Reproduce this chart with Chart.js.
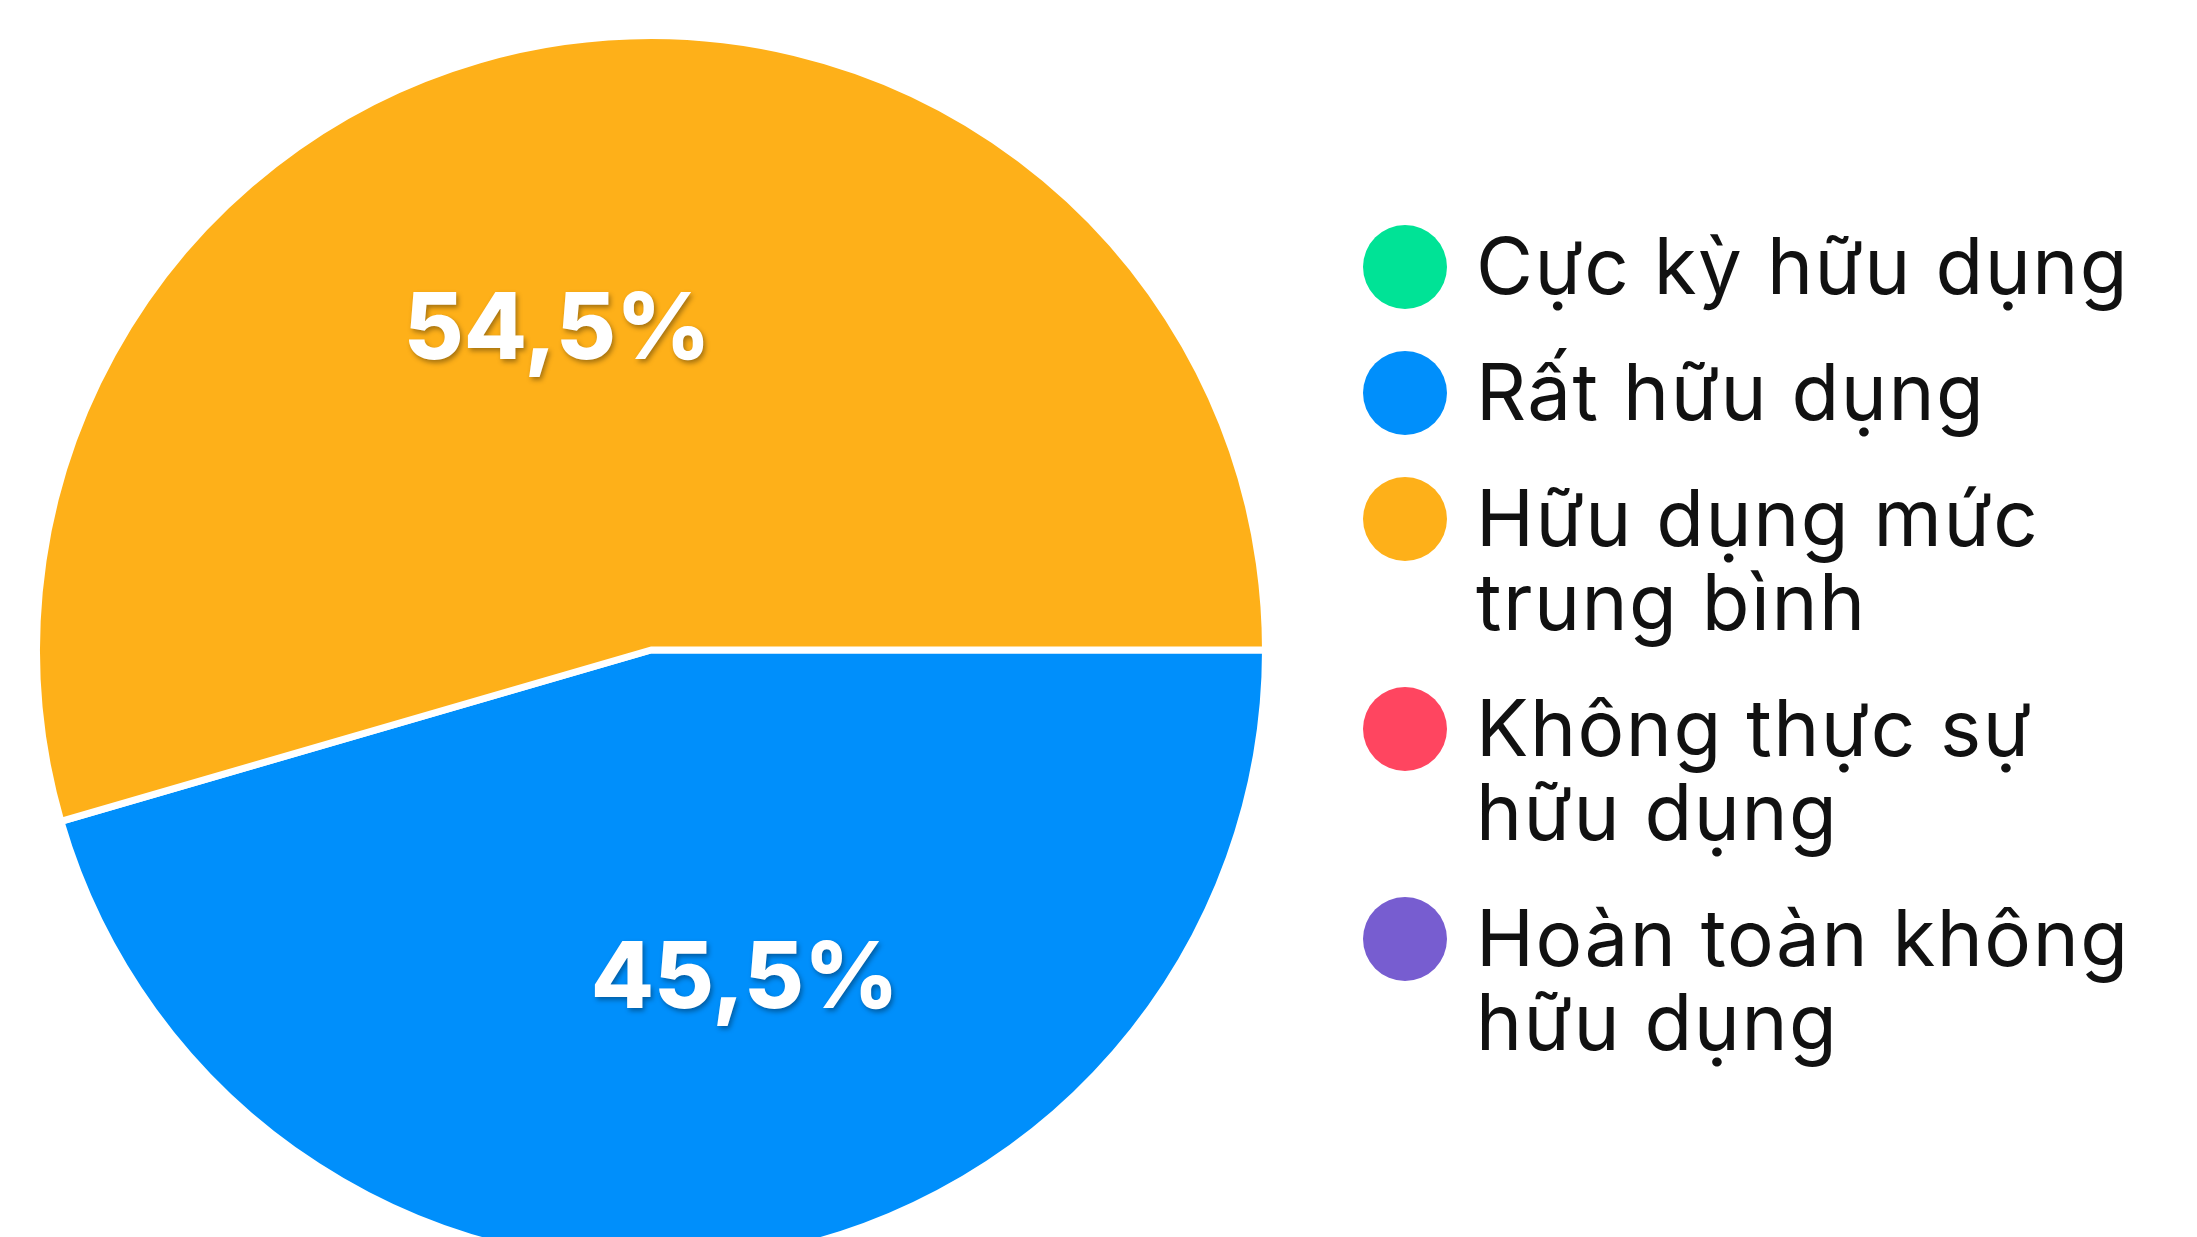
<!DOCTYPE html>
<html>
<head>
<meta charset="utf-8">
<title>Mức độ hữu dụng</title>
<script src="https://cdn.jsdelivr.net/npm/chart.js@4"></script>
<style>
    html, body { margin: 0; padding: 0; background: #fff; overflow: hidden; }
    #wrap { width: 2197px; height: 1237px; overflow: hidden; }
    canvas { display: block; }
</style>
</head>
<body>
<div id="wrap"><canvas id="pie" width="2197" height="1300"></canvas></div>
<script>
// Data
const labels = [
    ["Cực kỳ hữu dụng"],
    ["Rất hữu dụng"],
    ["Hữu dụng mức", "trung bình"],
    ["Không thực sự", "hữu dụng"],
    ["Hoàn toàn không", "hữu dụng"]
];
const values = [0, 45.5, 54.5, 0, 0];
const colors = ["#00E396", "#008FFB", "#FEB019", "#FF4560", "#775DD0"];

const fontFamily = "Inter, 'DejaVu Sans', sans-serif";

// Percent labels inside the slices
const sliceLabels = {
    id: "sliceLabels",
    afterDatasetsDraw(chart) {
        const ctx = chart.ctx;
        const meta = chart.getDatasetMeta(0);
        const size = 92;
        ctx.save();
        ctx.font = `800 ${size}px ${fontFamily}`;
        ctx.textAlign = "center";
        ctx.textBaseline = "alphabetic";
        ctx.fillStyle = "#fff";
        ctx.shadowColor = "rgba(0,0,0,0.35)";
        ctx.shadowBlur = 5;
        ctx.shadowOffsetX = 2;
        ctx.shadowOffsetY = 3;
        meta.data.forEach((arc, i) => {
            if (!values[i]) return;
            const p = arc.getProps(["x", "y", "startAngle", "endAngle", "outerRadius"], true);
            const a = (p.startAngle + p.endAngle) / 2 - 8 * Math.PI / 180;
            const r = p.outerRadius * 0.55;
            const text = values[i].toFixed(1).replace(".", ",") + "%";
            ctx.fillText(text, p.x + Math.cos(a) * r, p.y + Math.sin(a) * r + size * 0.727 / 2);
        });
        ctx.restore();
    }
};

// Legend on the right, with wrapped lines
const sideLegend = {
    id: "sideLegend",
    afterDraw(chart) {
        const ctx = chart.ctx;
        const size = 78;
        const lineH = 84;
        const gap = 42;
        const markerX = 1405;
        const markerR = 42;
        const textX = 1476;
        let y = 225;
        ctx.save();
        ctx.font = `400 ${size}px ${fontFamily}`;
        ctx.letterSpacing = "1.5px";
        ctx.textAlign = "left";
        ctx.textBaseline = "alphabetic";
        chart.data.labels.forEach((lines, i) => {
            const cy = y + lineH / 2;
            ctx.beginPath();
            ctx.arc(markerX, cy, markerR, 0, Math.PI * 2);
            ctx.fillStyle = colors[i];
            ctx.fill();
            ctx.fillStyle = "#111";
            lines.forEach((line, j) => {
                ctx.fillText(line, textX, cy + j * lineH + size * 0.7 / 2);
            });
            y += lines.length * lineH + gap;
        });
        ctx.restore();
    }
};

new Chart(document.getElementById("pie"), {
    type: "pie",
    data: {
        labels: labels,
        datasets: [{
            data: values,
            backgroundColor: colors,
            borderColor: "#fff",
            borderWidth: 7
        }]
    },
    options: {
        responsive: false,
        animation: false,
        rotation: 90,
        layout: { padding: { left: 33, top: 30, right: 928, bottom: 30 } },
        plugins: {
            legend: { display: false },
            tooltip: { enabled: false }
        }
    },
    plugins: [sliceLabels, sideLegend]
});
</script>
</body>
</html>
